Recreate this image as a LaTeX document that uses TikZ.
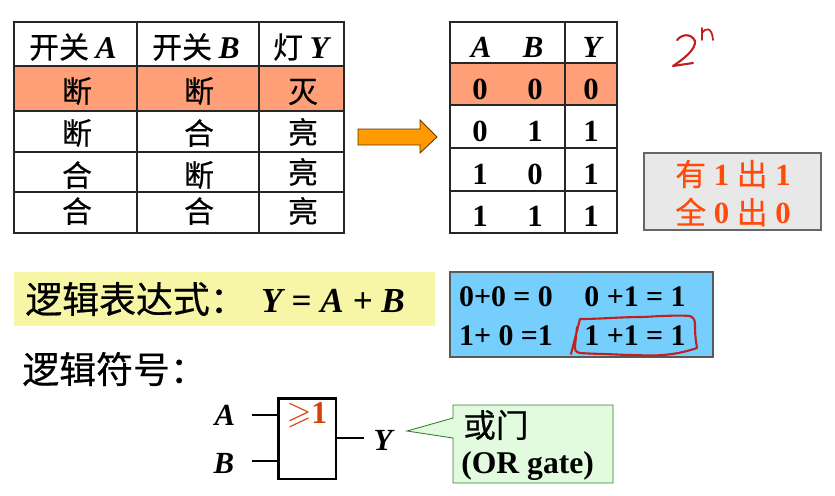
\documentclass[tikz,border=0pt]{standalone}
\usepackage{amssymb}
\usepackage{fontspec}
\setmainfont{Liberation Serif}
\newfontfamily\cjk[FakeBold=0.5]{Noto Sans CJK SC}
\definecolor{rowhl}{HTML}{FF9F78}
\definecolor{sumblue}{HTML}{75CEFB}
\definecolor{notered}{HTML}{C02020}
\definecolor{ruleorange}{HTML}{FF4A0A}
\definecolor{arrowfill}{HTML}{FF9A00}
\definecolor{exprband}{HTML}{F6F6A6}
\definecolor{calloutfill}{HTML}{E2FBDF}
\tikzset{
  cell/.style={inner sep=0pt,font=\fontsize{17}{20}\selectfont\cjk},
  var/.style={inner sep=0pt,font=\fontsize{17.5}{20}\selectfont\bfseries\itshape},
  digit/.style={inner sep=0pt,font=\fontsize{17.5}{20}\selectfont\bfseries},
  sumtext/.style={inner sep=0pt,font=\fontsize{17}{20}\selectfont\bfseries},
  ruletext/.style={inner sep=0pt,text=ruleorange,font=\fontsize{17.5}{20}\selectfont\bfseries},
  heading/.style={inner sep=0pt,anchor=west,font=\fontsize{21}{24}\selectfont\cjk},
  grid/.style={line width=0.8pt,black!85},
  hand/.style={notered,line width=1.2pt,line cap=round,line join=round},
}
\begin{document}
\begin{tikzpicture}[x=0.02cm,y=-0.02cm]
  \useasboundingbox (0,0) rectangle (835,495);

  % left table
  \fill[rowhl] (14,66) rectangle (344,111);
  \draw[grid] (14,22) rectangle (344,233);
  \foreach \yy in {66,111,152,192} \draw[grid] (14,\yy) -- (344,\yy);
  \foreach \xx in {137,259} \draw[grid] (\xx,22) -- (\xx,233);
  \node[cell] (h1) at (73,47) {开关 {\rmfamily\bfseries\itshape\fontsize{18}{20}\selectfont A}};
  \node[cell] (h2) at (196,47) {开关 {\rmfamily\bfseries\itshape\fontsize{18}{20}\selectfont B}};
  \node[cell] (h3) at (301,47) {灯 {\rmfamily\bfseries\itshape\fontsize{18}{20}\selectfont Y}};
  \node[cell] (a1) at (77,91) {断};
  \node[cell] (b1) at (199,91) {断};
  \node[cell] (y1) at (303,92) {灭};
  \node[cell] (a2) at (77,133) {断};
  \node[cell] (b2) at (199,133) {合};
  \node[cell] (y2) at (303,132) {亮};
  \node[cell] (a3) at (77,175) {合};
  \node[cell] (b3) at (199,175) {断};
  \node[cell] (y3) at (303,172) {亮};
  \node[cell] (a4) at (77,211) {合};
  \node[cell] (b4) at (199,211) {合};
  \node[cell] (y4) at (303,211) {亮};

  % arrow
  \draw[fill=arrowfill,draw=black!60!orange,line width=0.5pt]
    (358,129) -- (420,129) -- (420,120) -- (437,137) -- (420,153) -- (420,145) -- (358,145) -- cycle;

  % right table
  \fill[rowhl] (450,63) rectangle (617,105);
  \draw[grid] (450,22) rectangle (617,233);
  \foreach \yy in {63,105,148,191} \draw[grid] (450,\yy) -- (617,\yy);
  \draw[grid] (565,22) -- (565,233);
  \node[var] (ta) at (481,47) {A};
  \node[var] (tb) at (533,47) {B};
  \node[var] (ty) at (592,47) {Y};
  \node[digit] (r1a) at (480,89) {0};
  \node[digit] (r1b) at (535,89) {0};
  \node[digit] (r1y) at (591,89) {0};
  \node[digit] (r2a) at (480,131) {0};
  \node[digit] (r2b) at (535,131) {1};
  \node[digit] (r2y) at (591,131) {1};
  \node[digit] (r3a) at (480,174) {1};
  \node[digit] (r3b) at (535,174) {0};
  \node[digit] (r3y) at (591,174) {1};
  \node[digit] (r4a) at (480,216) {1};
  \node[digit] (r4b) at (535,216) {1};
  \node[digit] (r4y) at (591,216) {1};

  % handwritten 2^n
  \draw[hand] (677,40) .. controls (682,34) and (691,33) .. (695,41)
    .. controls (696,50) and (682,60) .. (673,66) -- (693,63);
  \draw[hand,line width=1pt] (702,28) -- (702,40) (702,33) .. controls (705,28) and (712,26) .. (713,40);

  % rule box
  \draw[draw=black!60,fill=black!9,line width=0.7pt] (644,153) rectangle (821,230);
  \node[ruletext] (rule1) at (733,174) {{\mdseries\cjk 有} 1 {\mdseries\cjk 出} 1};
  \node[ruletext] (rule2) at (733,212) {{\mdseries\cjk 全} 0 {\mdseries\cjk 出} 0};

  % expression
  \fill[exprband] (14,272) rectangle (435,326);
  \node[heading] (exprlabel) at (25,299) {逻辑表达式：};
  \node[inner sep=0pt,font=\fontsize{20}{24}\selectfont\bfseries\itshape] (expr) at (333,301) {Y = A + B};
  \node[heading] (symlabel) at (22,369) {逻辑符号：};

  % sums
  \draw[fill=sumblue,draw=black!65,line width=0.6pt] (450,272) rectangle (713,357);
  \node[sumtext] (s1) at (506,297) {0+0 = 0};
  \node[sumtext] (s2) at (635,297) {0 +1 = 1};
  \node[sumtext] (s3) at (506,336) {1+ 0 =1};
  \node[sumtext] (s4) at (635,336) {1 +1 = 1};
  \draw[hand] (571,354) -- (580,319) .. controls (600,319) and (620,317) .. (643,317)
    .. controls (660,316) and (680,315) .. (690,316) .. controls (695,318) and (695,322) .. (695,326)
    .. controls (695,335) and (696,342) .. (697,348) .. controls (685,352) and (675,354) .. (663,355)
    .. controls (650,356) and (640,355) .. (627,355) .. controls (610,354) and (595,354) .. (580,353)
    .. controls (575,352) and (575,350) .. (575,346) -- (577,327);

  % gate
  \node[draw,line width=1.7pt,inner sep=0pt,minimum width=1.16cm,minimum height=1.62cm] (gate) at (307,438.5) {};
  \node[inner sep=0pt,text=ruleorange!85!black,font=\fontsize{18}{20}\selectfont\bfseries] (gatesym) at (307,415) {$\geqslant$1};
  \node[var] (inA) at (225,415) {A};
  \node[var] (inB) at (224,463) {B};
  \node[var] (outY) at (383,440) {Y};
  \coordinate (wireA) at (252,415);
  \coordinate (wireB) at (252,461);
  \coordinate (wireY) at (364,438);
  \draw[line width=0.8pt] (wireA) -- (gate.west |- wireA);
  \draw[line width=0.8pt] (wireB) -- (gate.west |- wireB);
  \draw[line width=0.8pt] (gate.east |- wireY) -- (wireY);

  % callout
  \draw[fill=calloutfill,draw=black!50!green!60!gray,line width=0.5pt]
    (453,405) -- (613,405) -- (613,483) -- (453,483) -- (453,438) -- (407,431) -- (453,418) -- cycle;
  \node[inner sep=0pt,anchor=west,font=\fontsize{18.5}{20}\selectfont\cjk] (calloutcn) at (463,425) {或门};
  \node[inner sep=0pt,anchor=west,font=\fontsize{18}{20}\selectfont\bfseries] (callouten) at (461,466) {(OR gate)};
\end{tikzpicture}
\end{document}
